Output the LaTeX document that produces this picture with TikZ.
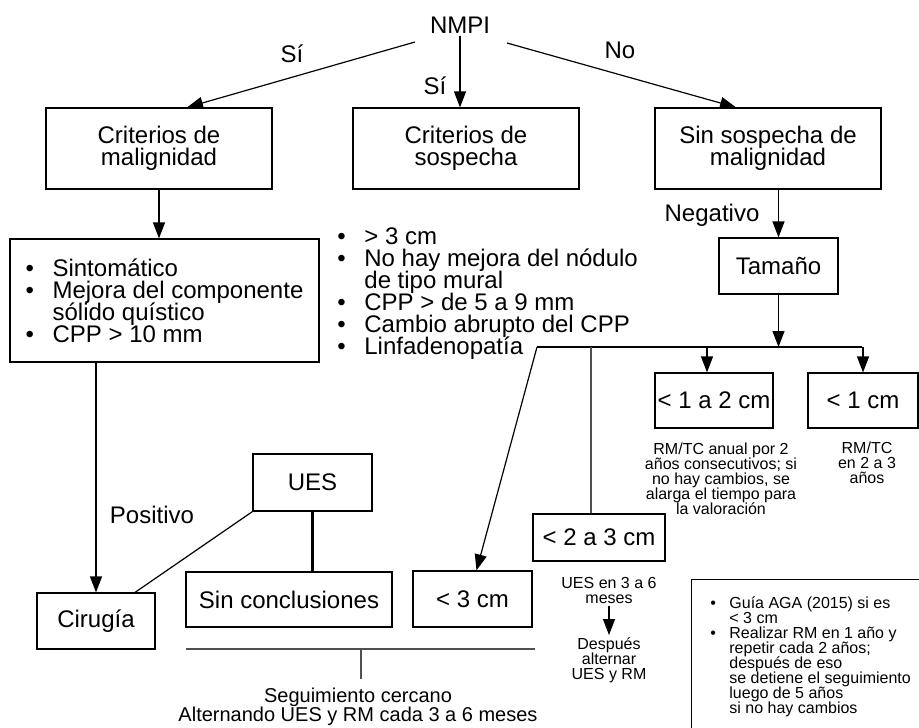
\documentclass[tikz,border=0pt]{standalone}
\usepackage{fontspec}
\setmainfont{Liberation Sans}
\usetikzlibrary{arrows.meta}

\definecolor{gris}{RGB}{80,80,80}
\newcommand{\fuentegrande}{\fontsize{12}{11}\selectfont\lineskiplimit-20pt\relax}
\newcommand{\fuentemedia}{\fontsize{10}{9.5}\selectfont\lineskiplimit-20pt\relax}
\newcommand{\fuentechica}{\fontsize{8}{7.5}\selectfont\lineskiplimit-20pt\relax}
\newcommand{\vineta}[1]{\makebox[#1][l]{\textbullet}}
\newcommand{\sangria}[1]{\hspace*{#1}}

\begin{document}
\begin{tikzpicture}[x=0.5pt, y=-0.5pt,
    every node/.style={font=\fuentegrande},
    caja/.style={draw, line width=0.6pt, align=center, inner sep=0pt},
    etiqueta/.style={align=center, inner sep=1pt},
    nota/.style={align=center, inner sep=1pt, font=\fuentechica},
    flecha/.style={line width=0.6pt, -{Triangle[length=8pt,width=6pt]}},
    linea/.style={line width=0.6pt}]

    % 枠
    \useasboundingbox (0,0) rectangle (919,727);

    % 座標の定義
    \coordinate (nmpiL) at (415,42);
    \coordinate (nmpiR) at (507,43);
    \coordinate (barL) at (537,347);
    \coordinate (barR) at (862,347);
    \coordinate (barM) at (591,347);
    \coordinate (bajoL) at (186,649);
    \coordinate (bajoR) at (535,649);
    \coordinate (bajoM) at (361,649);
    \coordinate (bajoE) at (361,679);

    % 上段
    \node[etiqueta] (nmpi) at (460,25) {NMPI};
    \node[caja, minimum width=113pt, minimum height=40.5pt] (malig) at (159,148.5) {Criterios de\\malignidad};
    \node[caja, minimum width=113pt, minimum height=40.5pt] (sosp) at (466,148.5) {Criterios de\\sospecha};
    \node[caja, minimum width=113pt, minimum height=40.5pt] (sinsosp) at (768,148.5) {Sin sospecha de\\malignidad};

    % 中段
    \node[caja, align=left, minimum width=154.5pt, minimum height=61.5pt] (malbul) at (164.5,300.5)
        {\vineta{13.5pt}Sintomático\\
         \vineta{13.5pt}Mejora del componente\\
         \sangria{13.5pt}sólido quístico\\
         \vineta{13.5pt}CPP > 10 mm};
    \node[etiqueta, align=left, anchor=west, inner sep=0pt] (sosplista) at (337,294)
        {\vineta{13.5pt}> 3 cm\\
         \vineta{13.5pt}No hay mejora del nódulo\\
         \sangria{13.5pt}de tipo mural\\
         \vineta{13.5pt}CPP > de 5 a 9 mm\\
         \vineta{13.5pt}Cambio abrupto del CPP\\
         \vineta{13.5pt}Linfadenopatía};
    \node[caja, minimum width=59.5pt, minimum height=28pt] (tam) at (778.5,266) {Tamaño};
    \node[caja, minimum width=59pt, minimum height=27.5pt] (caja12) at (714,400.5) {< 1 a 2 cm};
    \node[caja, minimum width=55pt, minimum height=27.5pt] (caja1) at (863,400.5) {< 1 cm};
    \node[caja, minimum width=66pt, minimum height=23.5pt] (caja23) at (599,537.5) {< 2 a 3 cm};

    % 下段
    \node[caja, minimum width=59.5pt, minimum height=28.5pt] (ues) at (312.5,482.5) {UES};
    \node[caja, minimum width=59pt, minimum height=28pt] (cir) at (96,621) {Cirugía};
    \node[caja, minimum width=103pt, minimum height=27.5pt] (sinc) at (289,599.5) {Sin conclusiones};
    \node[caja, minimum width=59.5pt, minimum height=28pt] (caja3) at (472.5,599) {< 3 cm};
    \node[draw, line width=0.6pt, anchor=north west, minimum width=125pt, minimum height=90pt,
        inner sep=0pt] (aga) at (691,579) {};

    % ラベル
    \node[etiqueta] (si1) at (292,54) {Sí};
    \node[etiqueta] (si2) at (435,86) {Sí};
    \node[etiqueta] (no) at (620,50) {No};
    \node[etiqueta] (neg) at (712,215) {Negativo};
    \node[etiqueta] (pos) at (152,515) {Positivo};

    % 注記
    \node[nota] (nota12) at (721,479) {RM/TC anual por 2\\años consecutivos; si\\no hay cambios, se\\alarga el tiempo para\\la valoración};
    \node[nota] (nota1) at (867,463) {RM/TC\\en 2 a 3\\años};
    \node[nota] (nota23) at (609,590) {UES en 3 a 6\\meses};
    \node[nota] (despues) at (609,660) {Después\\alternar\\UES y RM};
    \node[nota, align=left, anchor=north west] (agatxt) at (708,594)
        {\vineta{9.5pt}Guía AGA (2015) si es\\
         \sangria{9.5pt}< 3 cm\\
         \vineta{9.5pt}Realizar RM en 1 año y\\
         \sangria{9.5pt}repetir cada 2 años;\\
         \sangria{9.5pt}después de eso\\
         \sangria{9.5pt}se detiene el seguimiento\\
         \sangria{9.5pt}luego de 5 años\\
         \sangria{9.5pt}si no hay cambios};
    \node[etiqueta, font=\fuentemedia] (seg) at (358,707)
        {Seguimiento cercano\\Alternando UES y RM cada 3 a 6 meses};

    % 矢印
    \draw[flecha] (nmpiL) -- ([xshift=14pt]malig.north);
    \draw[flecha] (nmpi.south) -- (nmpi.south |- sosp.north);
    \draw[flecha] (nmpiR) -- ([xshift=-16pt]sinsosp.north);
    \draw[flecha] (malig.south) -- (malig.south |- malbul.north);
    \draw[flecha] (tam.north |- sinsosp.south) -- (tam.north);
    \draw[flecha] (tam.south) -- (tam.south |- barL);
    \draw[flecha] ([xshift=-3.5pt]caja12.north |- barL) -- ([xshift=-3.5pt]caja12.north);
    \draw[flecha] (caja1.north |- barL) -- (caja1.north);
    \draw[flecha] (barL) -- ([xshift=2pt]caja3.north);
    \draw[flecha] (cir.north |- malbul.south) -- (cir.north);
    \draw[flecha] (nota23) -- (despues);

    % 線
    \draw[linea] (barL) -- (barR);
    \draw[linea, gris] (barM) -- (barM |- caja23.north);
    \draw[linea] (ues.south west) -- ([xshift=19.5pt]cir.north);
    \draw[line width=1.2pt] (ues.south) -- (ues.south |- sinc.north);
    \draw[linea, gris] (bajoL) -- (bajoR);
    \draw[linea, gris] (bajoM) -- (bajoE);

\end{tikzpicture}
\end{document}
